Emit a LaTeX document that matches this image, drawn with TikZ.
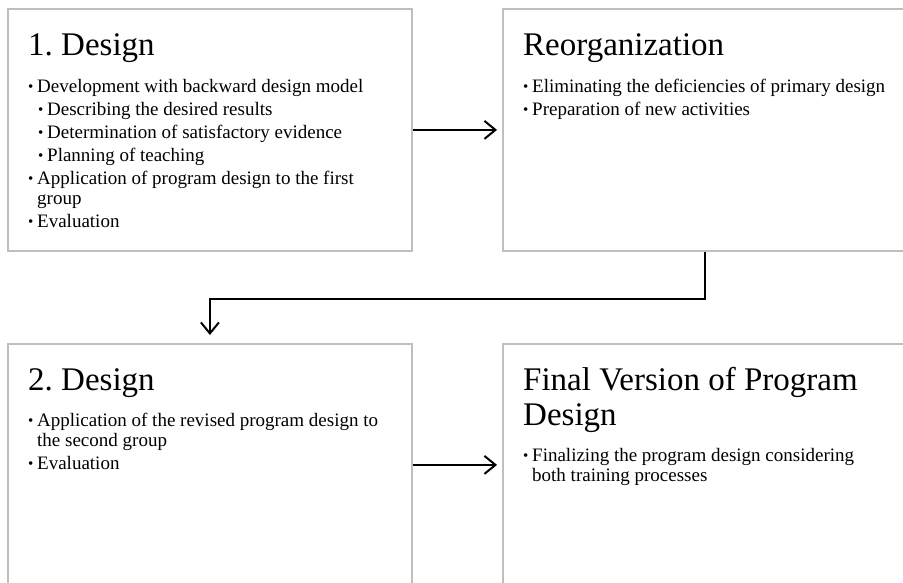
\documentclass[tikz,border=0pt]{standalone}
\usepackage{fontspec}
\setmainfont{Liberation Serif}
\usepackage{tikz}
\usetikzlibrary{arrows.meta, positioning}
\frenchspacing

\newcommand{\puce}{\makebox[9pt][l]{\raisebox{1pt}{\fontsize{15}{15}\selectfont\textbullet}}}

\begin{document}
\begin{tikzpicture}[x=1pt,y=-1pt,
    boite/.style={draw=gray!50, line width=1.8pt, minimum width=404pt, minimum height=242pt, anchor=north west, inner sep=0pt},
    titre/.style={anchor=base west, inner sep=0pt, font=\fontsize{33}{35}\selectfont},
    liste/.style={anchor=base west, inner sep=0pt, font=\fontsize{19}{20}\selectfont},
    fleche/.style={-{Straight Barb[length=11pt,width=18pt]}, line width=2pt}]
    \clip (0,0) rectangle (903,582);
    % Les quatre boites
    \node[boite] (design1) at (7,8) {};
    \node[boite] (reorg) at (502,8) {};
    \node[boite] (design2) at (7,343) {};
    \node[boite] (final) at (502,343) {};

    % Titres
    \node[titre] (t1) at (28,55) {1. Design};
    \node[titre] (t2) at (523,55) {Reorganization};
    \node[titre] (t3) at (28,390) {2. Design};
    \node[titre] (t4) at (523,390) {\parbox[t]{380pt}{\raggedright Final Version of Program\\Design}};

    % Listes
    \node[liste] (l1) at (28,92) {\parbox[t]{380pt}{\raggedright
        \puce Development with backward design model\\[3pt]
        \hspace*{10pt}\puce Describing the desired results\\[3pt]
        \hspace*{10pt}\puce Determination of satisfactory evidence\\[3pt]
        \hspace*{10pt}\puce Planning of teaching\\[3pt]
        \puce Application of program design to the first\\
        \hspace*{9pt}group\\[3pt]
        \puce Evaluation}};
    \node[liste] (l2) at (523,92) {\parbox[t]{380pt}{\raggedright
        \puce Eliminating the deficiencies of primary design\\[3pt]
        \puce Preparation of new activities}};
    \node[liste] (l3) at (28,426) {\parbox[t]{380pt}{\raggedright
        \puce Application of the revised program design to\\
        \hspace*{9pt}the second group\\[3pt]
        \puce Evaluation}};
    \node[liste] (l4) at (523,461) {\parbox[t]{380pt}{\raggedright
        \puce Finalizing the program design considering\\
        \hspace*{9pt}both training processes}};

    % Fleches
    \draw[fleche, shorten >=5pt] (design1) -- (reorg);
    \draw[fleche, shorten >=8pt] (reorg.south) -- ++(0,47) -| (design2.north);
    \draw[fleche, shorten >=5pt] (design2) -- (final);
\end{tikzpicture}
\end{document}
